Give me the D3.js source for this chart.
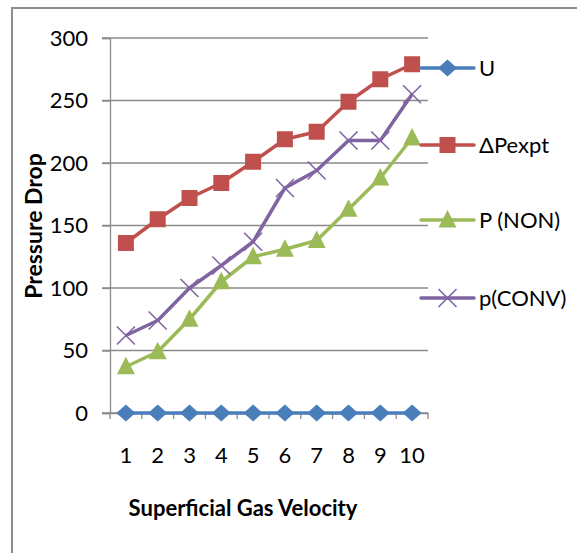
<!DOCTYPE html>
<html>
<head>
<meta charset="utf-8">
<script src="https://cdn.jsdelivr.net/npm/d3@7"></script>
<style>
  body { margin: 0; background: #fff; }
  svg { display: block; font-family: Lato, "Open Sans", sans-serif; }
</style>
</head>
<body>
<div id="chart"></div>
<script>
var width = 577;
var height = 553;

// data
var categories = [1, 2, 3, 4, 5, 6, 7, 8, 9, 10];
var seriesNames = ["U", "\u0394Pexpt", "P (NON)", "p(CONV)"];
var uValues = [0, 0, 0, 0, 0, 0, 0, 0, 0, 0];
var dpExpt = [136, 155, 172, 184, 201, 219, 225, 249, 267, 279];
var pNon = [37, 49, 75, 105, 125, 131, 138, 163, 188, 220];
var pConv = [62, 74, 100, 118, 137, 180, 194, 218, 218, 255];
var yTicks = [0, 50, 100, 150, 200, 250, 300];

var colors = ["#4a7ebb", "#c0504d", "#9bbb59", "#8064a2"];
var markers = ["diamond", "square", "triangle", "x"];
var allSeries = [uValues, dpExpt, pNon, pConv];

var plotLeft = 110, plotRight = 428, plotTop = 38, plotBottom = 413;
var fontSize = 22;

var svg = d3.select("#chart").append("svg")
  .attr("width", width)
  .attr("height", height);

// outer frame (only top & left visible)
svg.append("rect")
  .attr("x", 12).attr("y", 8)
  .attr("width", 700).attr("height", 700)
  .attr("fill", "none")
  .attr("stroke", "#8c8c8c")
  .attr("stroke-width", 2);

var x = d3.scaleBand().domain(categories).range([plotLeft, plotRight]);
var y = d3.scaleLinear().domain([0, 300]).range([plotBottom, plotTop]);

// gridlines
svg.append("g")
  .selectAll("line")
  .data(yTicks)
  .enter()
  .append("line")
  .attr("x1", plotLeft - 8)
  .attr("x2", plotRight)
  .attr("y1", function (d) { return y(d); })
  .attr("y2", function (d) { return y(d); })
  .attr("stroke", "#8a8a8a")
  .attr("stroke-width", 1.3);

// y axis
var yAxis = svg.append("g")
  .attr("transform", "translate(" + plotLeft + ",0)")
  .call(d3.axisLeft(y).tickValues(yTicks).tickSize(8).tickPadding(14));
yAxis.select(".domain").attr("stroke", "#8a8a8a").attr("stroke-width", 1.3);
yAxis.selectAll(".tick line").attr("stroke", "#8a8a8a").attr("stroke-width", 1.3);
yAxis.selectAll("text")
  .attr("font-size", fontSize)
  .attr("font-family", "Lato, 'Open Sans', sans-serif")
  .attr("fill", "#000");

// x axis
var xAxis = svg.append("g")
  .attr("transform", "translate(0," + plotBottom + ")")
  .call(d3.axisBottom(x).tickSize(0).tickPadding(34));
xAxis.select(".domain").attr("stroke", "#8a8a8a").attr("stroke-width", 1.3);
xAxis.selectAll("text")
  .attr("font-size", fontSize)
  .attr("font-family", "Lato, 'Open Sans', sans-serif")
  .attr("fill", "#000");

// category boundary ticks
var bounds = categories.map(function (c) { return x(c); }).concat([plotRight]);
svg.append("g")
  .selectAll("line")
  .data(bounds)
  .enter()
  .append("line")
  .attr("x1", function (d) { return d; })
  .attr("x2", function (d) { return d; })
  .attr("y1", plotBottom)
  .attr("y2", plotBottom + 6)
  .attr("stroke", "#8a8a8a")
  .attr("stroke-width", 1.3);

function cx(i) { return x(categories[i]) + x.bandwidth() / 2; }

function drawMarker(g, type, color, px, py) {
  if (type === "diamond") {
    g.append("path")
      .attr("d", "M" + px + "," + (py - 8.5) + "L" + (px + 9.5) + "," + py + "L" + px + "," + (py + 8.5) + "L" + (px - 9.5) + "," + py + "Z")
      .attr("fill", color);
  } else if (type === "square") {
    g.append("rect")
      .attr("x", px - 8).attr("y", py - 8)
      .attr("width", 16).attr("height", 16)
      .attr("fill", color);
  } else if (type === "triangle") {
    g.append("path")
      .attr("d", "M" + px + "," + (py - 10) + "L" + (px + 9) + "," + (py + 7.5) + "L" + (px - 9) + "," + (py + 7.5) + "Z")
      .attr("fill", color);
  } else {
    g.append("path")
      .attr("d", "M" + (px - 9) + "," + (py - 9) + "L" + (px + 9) + "," + (py + 9) +
                 "M" + (px - 9) + "," + (py + 9) + "L" + (px + 9) + "," + (py - 9))
      .attr("stroke", color)
      .attr("stroke-width", 1.6)
      .attr("fill", "none");
  }
}

var line = d3.line()
  .x(function (d, i) { return cx(i); })
  .y(function (d) { return y(d); });

allSeries.forEach(function (vals, s) {
  var g = svg.append("g");
  g.append("path")
    .attr("d", line(vals))
    .attr("fill", "none")
    .attr("stroke", colors[s])
    .attr("stroke-width", 3.5)
    .attr("stroke-linejoin", "round");
  vals.forEach(function (v, i) {
    drawMarker(g, markers[s], colors[s], cx(i), y(v));
  });
});

// legend
var legendY = [68, 145, 220, 298];
seriesNames.forEach(function (name, s) {
  var g = svg.append("g");
  g.append("line")
    .attr("x1", 421).attr("x2", 474)
    .attr("y1", legendY[s]).attr("y2", legendY[s])
    .attr("stroke", colors[s])
    .attr("stroke-width", 3.5)
    .attr("stroke-linecap", "round");
  drawMarker(g, markers[s], colors[s], 447.5, legendY[s]);
  g.append("text")
    .attr("x", 479)
    .attr("y", legendY[s])
    .attr("dy", "0.35em")
    .attr("font-size", fontSize)
    .text(name);
});

// axis titles
svg.append("text")
  .attr("x", 243)
  .attr("y", 508)
  .attr("dy", "0.35em")
  .attr("text-anchor", "middle")
  .attr("font-size", fontSize)
  .attr("font-weight", "bold")
  .text("Superficial Gas Velocity");

svg.append("text")
  .attr("transform", "translate(34,226) rotate(-90)")
  .attr("dy", "0.35em")
  .attr("text-anchor", "middle")
  .attr("font-size", 23)
  .attr("font-weight", "bold")
  .text("Pressure Drop");
</script>
</body>
</html>
